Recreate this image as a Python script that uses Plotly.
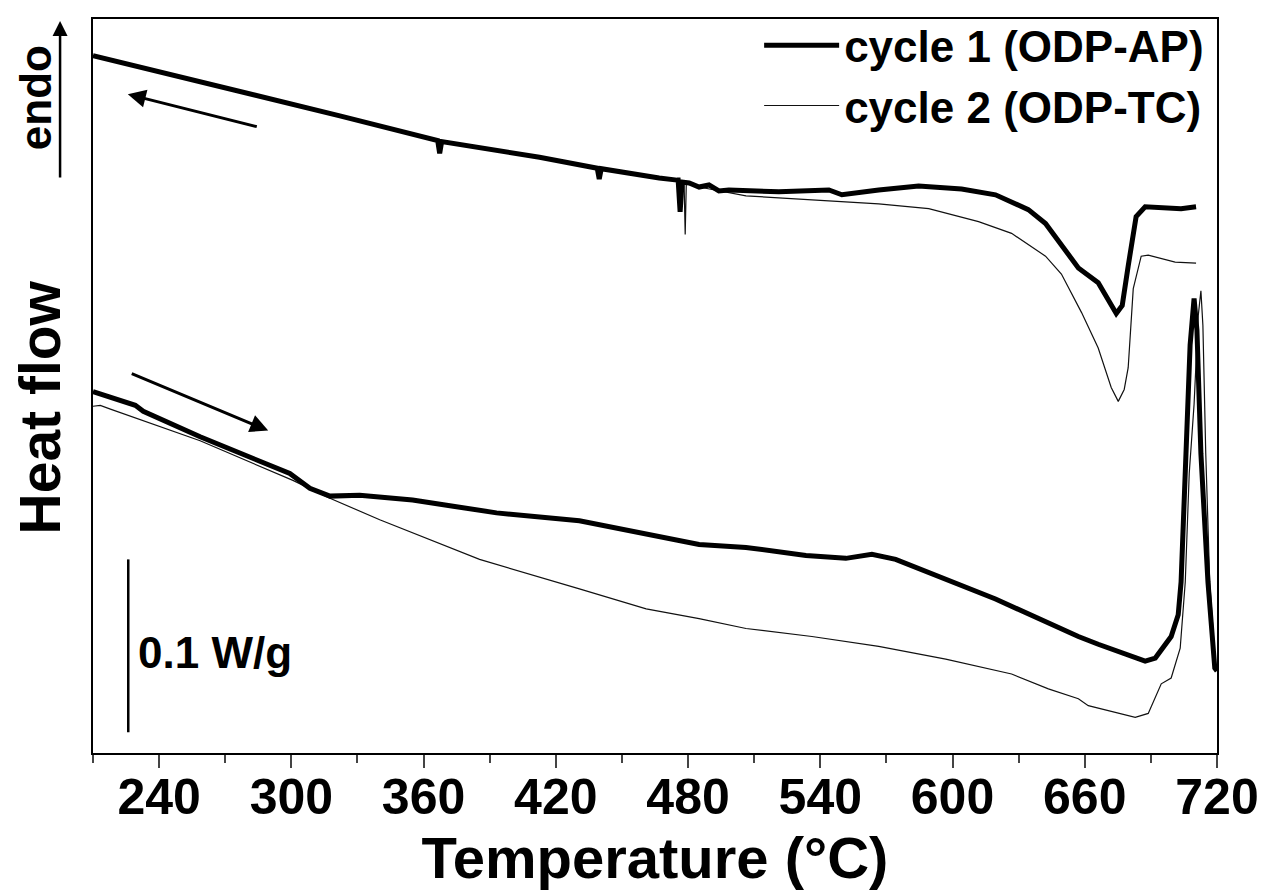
import plotly.graph_objects as go

# ---- data (Temperature in °C, heat flow in W/g, arbitrary offset) ----
c1_cool_T = [210, 236, 300, 322, 366.4, 367.3, 368.2, 412.6, 438.8, 439.7, 440.6, 457.8, 466.9,
             475.0, 475.5, 476.4, 477.3, 480.5, 485.0, 489.5, 494.0, 498.5, 521.2, 543.9, 549.8,
             566.5, 584.6, 604.1, 619.5, 634.4, 642.2, 657.1, 666.1, 674.3, 677.0, 679.7, 683.3,
             687.4, 703.7, 710.5]
c1_cool_Q = [0.4034, 0.3954, 0.3754, 0.3686, 0.3543, 0.3469, 0.3537, 0.3446, 0.3383, 0.3320, 0.3380,
             0.3343, 0.3326, 0.3314, 0.3314, 0.3131, 0.3303, 0.3297, 0.3274, 0.3286, 0.3251, 0.3257,
             0.3246, 0.3257, 0.3229, 0.3257, 0.3280, 0.3263, 0.3229, 0.3143, 0.3063, 0.2806, 0.2720,
             0.2543, 0.2589, 0.2817, 0.3103, 0.3160, 0.3149, 0.3160]

c2_cool_T = [210, 236, 300, 322, 366.4, 412.6, 457.8, 475.0, 478.2, 478.7, 479.2, 485.0, 506.3,
             536.2, 566.5, 589.2, 611.8, 626.8, 642.2, 649.4, 658.5, 666.1, 669.2, 672.0, 675.2,
             677.9, 679.7, 682.0, 685.6, 688.8, 701.0, 710.5]
c2_cool_Q = [0.4034, 0.3954, 0.3754, 0.3686, 0.3543, 0.3446, 0.3343, 0.3314, 0.3300, 0.3000, 0.3297,
             0.3274, 0.3223, 0.3200, 0.3177, 0.3149, 0.3074, 0.3006, 0.2874, 0.2771, 0.2549, 0.2343,
             0.2229, 0.2114, 0.2034, 0.2103, 0.2229, 0.2686, 0.2874, 0.2880, 0.2840, 0.2834]

c1_heat_T = [210, 225.5, 229.2, 232.8, 258.6, 299.3, 308.4, 317.5, 331.0, 355.0, 393.1, 430.7, 461.0,
             485.0, 506.3, 533.5, 551.6, 563.4, 574.2, 589.2, 619.5, 657.1, 666.1, 687.4, 692.0,
             699.2, 702.4, 703.7, 706.0, 707.8, 709.6, 710.9, 712.7, 715.9, 719.0, 720]
c1_heat_Q = [0.2091, 0.2029, 0.2011, 0.1977, 0.1829, 0.1617, 0.1531, 0.1486, 0.1491, 0.1463, 0.1389,
             0.1343, 0.1263, 0.1206, 0.1189, 0.1143, 0.1126, 0.1149, 0.1120, 0.1046, 0.0891, 0.0674,
             0.0629, 0.0531, 0.0549, 0.0674, 0.0800, 0.0989, 0.1731, 0.2360, 0.2629, 0.2446, 0.1731,
             0.0989, 0.0491, 0.0474]

c2_heat_T = [210, 213.3, 217.9, 258.6, 300.7, 317.5, 340.1, 385.4, 430.7, 461.0, 485.0, 506.3, 536.2,
             566.5, 596.9, 626.8, 643.5, 657.1, 661.6, 682.9, 688.8, 694.7, 699.2, 703.3, 705.6,
             707.4, 709.6, 711.5, 712.7, 713.6, 714.9, 716.7, 719.0]
c2_heat_Q = [0.2006, 0.2011, 0.1989, 0.1806, 0.1577, 0.1474, 0.1349, 0.1120, 0.0949, 0.0834, 0.0777,
             0.0720, 0.0674, 0.0617, 0.0543, 0.0457, 0.0371, 0.0314, 0.0274, 0.0206, 0.0229, 0.0400,
             0.0434, 0.0606, 0.0989, 0.1617, 0.2017, 0.2531, 0.2674, 0.2474, 0.1731, 0.0989, 0.0560]

x_ticks = [240, 300, 360, 420, 480, 540, 600, 660, 720]
series_names = ["cycle 1 (ODP-AP)", "cycle 2 (ODP-TC)"]
scale_bar = [0.012, 0.112]   # 0.1 W/g

FONT = "Liberation Sans, Arial, sans-serif"

fig = go.Figure()
fig.add_trace(go.Scatter(x=c2_cool_T, y=c2_cool_Q, mode="lines", name=series_names[1],
                         line=dict(color="#111", width=1.2), showlegend=False, legendgroup="c2"))
fig.add_trace(go.Scatter(x=c2_heat_T, y=c2_heat_Q, mode="lines", name=series_names[1],
                         line=dict(color="#111", width=1.2), showlegend=True, legendgroup="c2",
                         legendrank=2))
fig.add_trace(go.Scatter(x=c1_cool_T, y=c1_cool_Q, mode="lines", name=series_names[0],
                         line=dict(color="black", width=5), showlegend=True, legendgroup="c1",
                         legendrank=1))
fig.add_trace(go.Scatter(x=c1_heat_T, y=c1_heat_Q, mode="lines", name=series_names[0],
                         line=dict(color="black", width=5), showlegend=False, legendgroup="c1"))

fig.update_layout(
    width=1275, height=893,
    margin=dict(l=85, r=66, t=2, b=148),
    paper_bgcolor="white", plot_bgcolor="white",
    font=dict(family=FONT, color="black"),
    legend=dict(x=0.993, xanchor="right", y=1.012, yanchor="top",
                font=dict(size=44, weight="bold"), bgcolor="rgba(0,0,0,0)",
                itemwidth=75, tracegroupgap=0, traceorder="normal"),
    xaxis=dict(range=[210, 720], tickvals=x_ticks, ticks="outside", ticklen=13, tickwidth=2,
               showline=True, linewidth=2, linecolor="black", mirror=True,
               showgrid=False, zeroline=False, ticklabelstandoff=-14,
               tickfont=dict(size=50, weight="bold"),
               minor=dict(ticks="outside", ticklen=8, tickwidth=2, dtick=30, tick0=0,
                          showgrid=False),
               title=dict(text="Temperature (°C)", font=dict(size=58, weight="bold"), standoff=4)),
    yaxis=dict(range=[0, 0.4246], showticklabels=False, ticks="", showgrid=False,
               zeroline=False, showline=True, linewidth=2, linecolor="black", mirror=True),
)

# scale bar
fig.add_shape(type="line", xref="x", yref="y", x0=226, x1=226, y0=scale_bar[0], y1=scale_bar[1],
              line=dict(color="black", width=2.5))
fig.add_annotation(x=229.5, y=0.0583, xref="x", yref="y", text="<b>0.1 W/g</b>", showarrow=False,
                   xanchor="left", yanchor="middle", font=dict(size=44))

# direction arrows
fig.add_annotation(x=225.8, y=0.3811, ax=285.0, ay=0.3621, xref="x", yref="y", axref="x", ayref="y",
                   text="", showarrow=True, arrowhead=2, arrowsize=1.2, arrowwidth=3, arrowcolor="black")
fig.add_annotation(x=289.5, y=0.1865, ax=226.9, ay=0.2198, xref="x", yref="y", axref="x", ayref="y",
                   text="", showarrow=True, arrowhead=2, arrowsize=1.2, arrowwidth=3, arrowcolor="black")

# y-axis labels
fig.add_annotation(x=-0.047, y=0.471, xref="paper", yref="paper", text="<b>Heat flow</b>",
                   textangle=-90, showarrow=False, font=dict(size=57), xanchor="center", yanchor="middle")
fig.add_annotation(x=-0.051, y=0.893, xref="paper", yref="paper", text="<b>endo</b>",
                   textangle=-90, showarrow=False, font=dict(size=44), xanchor="center", yanchor="middle")
fig.add_annotation(x=-0.0293, y=0.9973, xref="paper", yref="paper", ax=0, ay=158, text="",
                   showarrow=True, arrowhead=2, arrowsize=1.2, arrowwidth=2.5, arrowcolor="black")

fig.write_html("out.html")
